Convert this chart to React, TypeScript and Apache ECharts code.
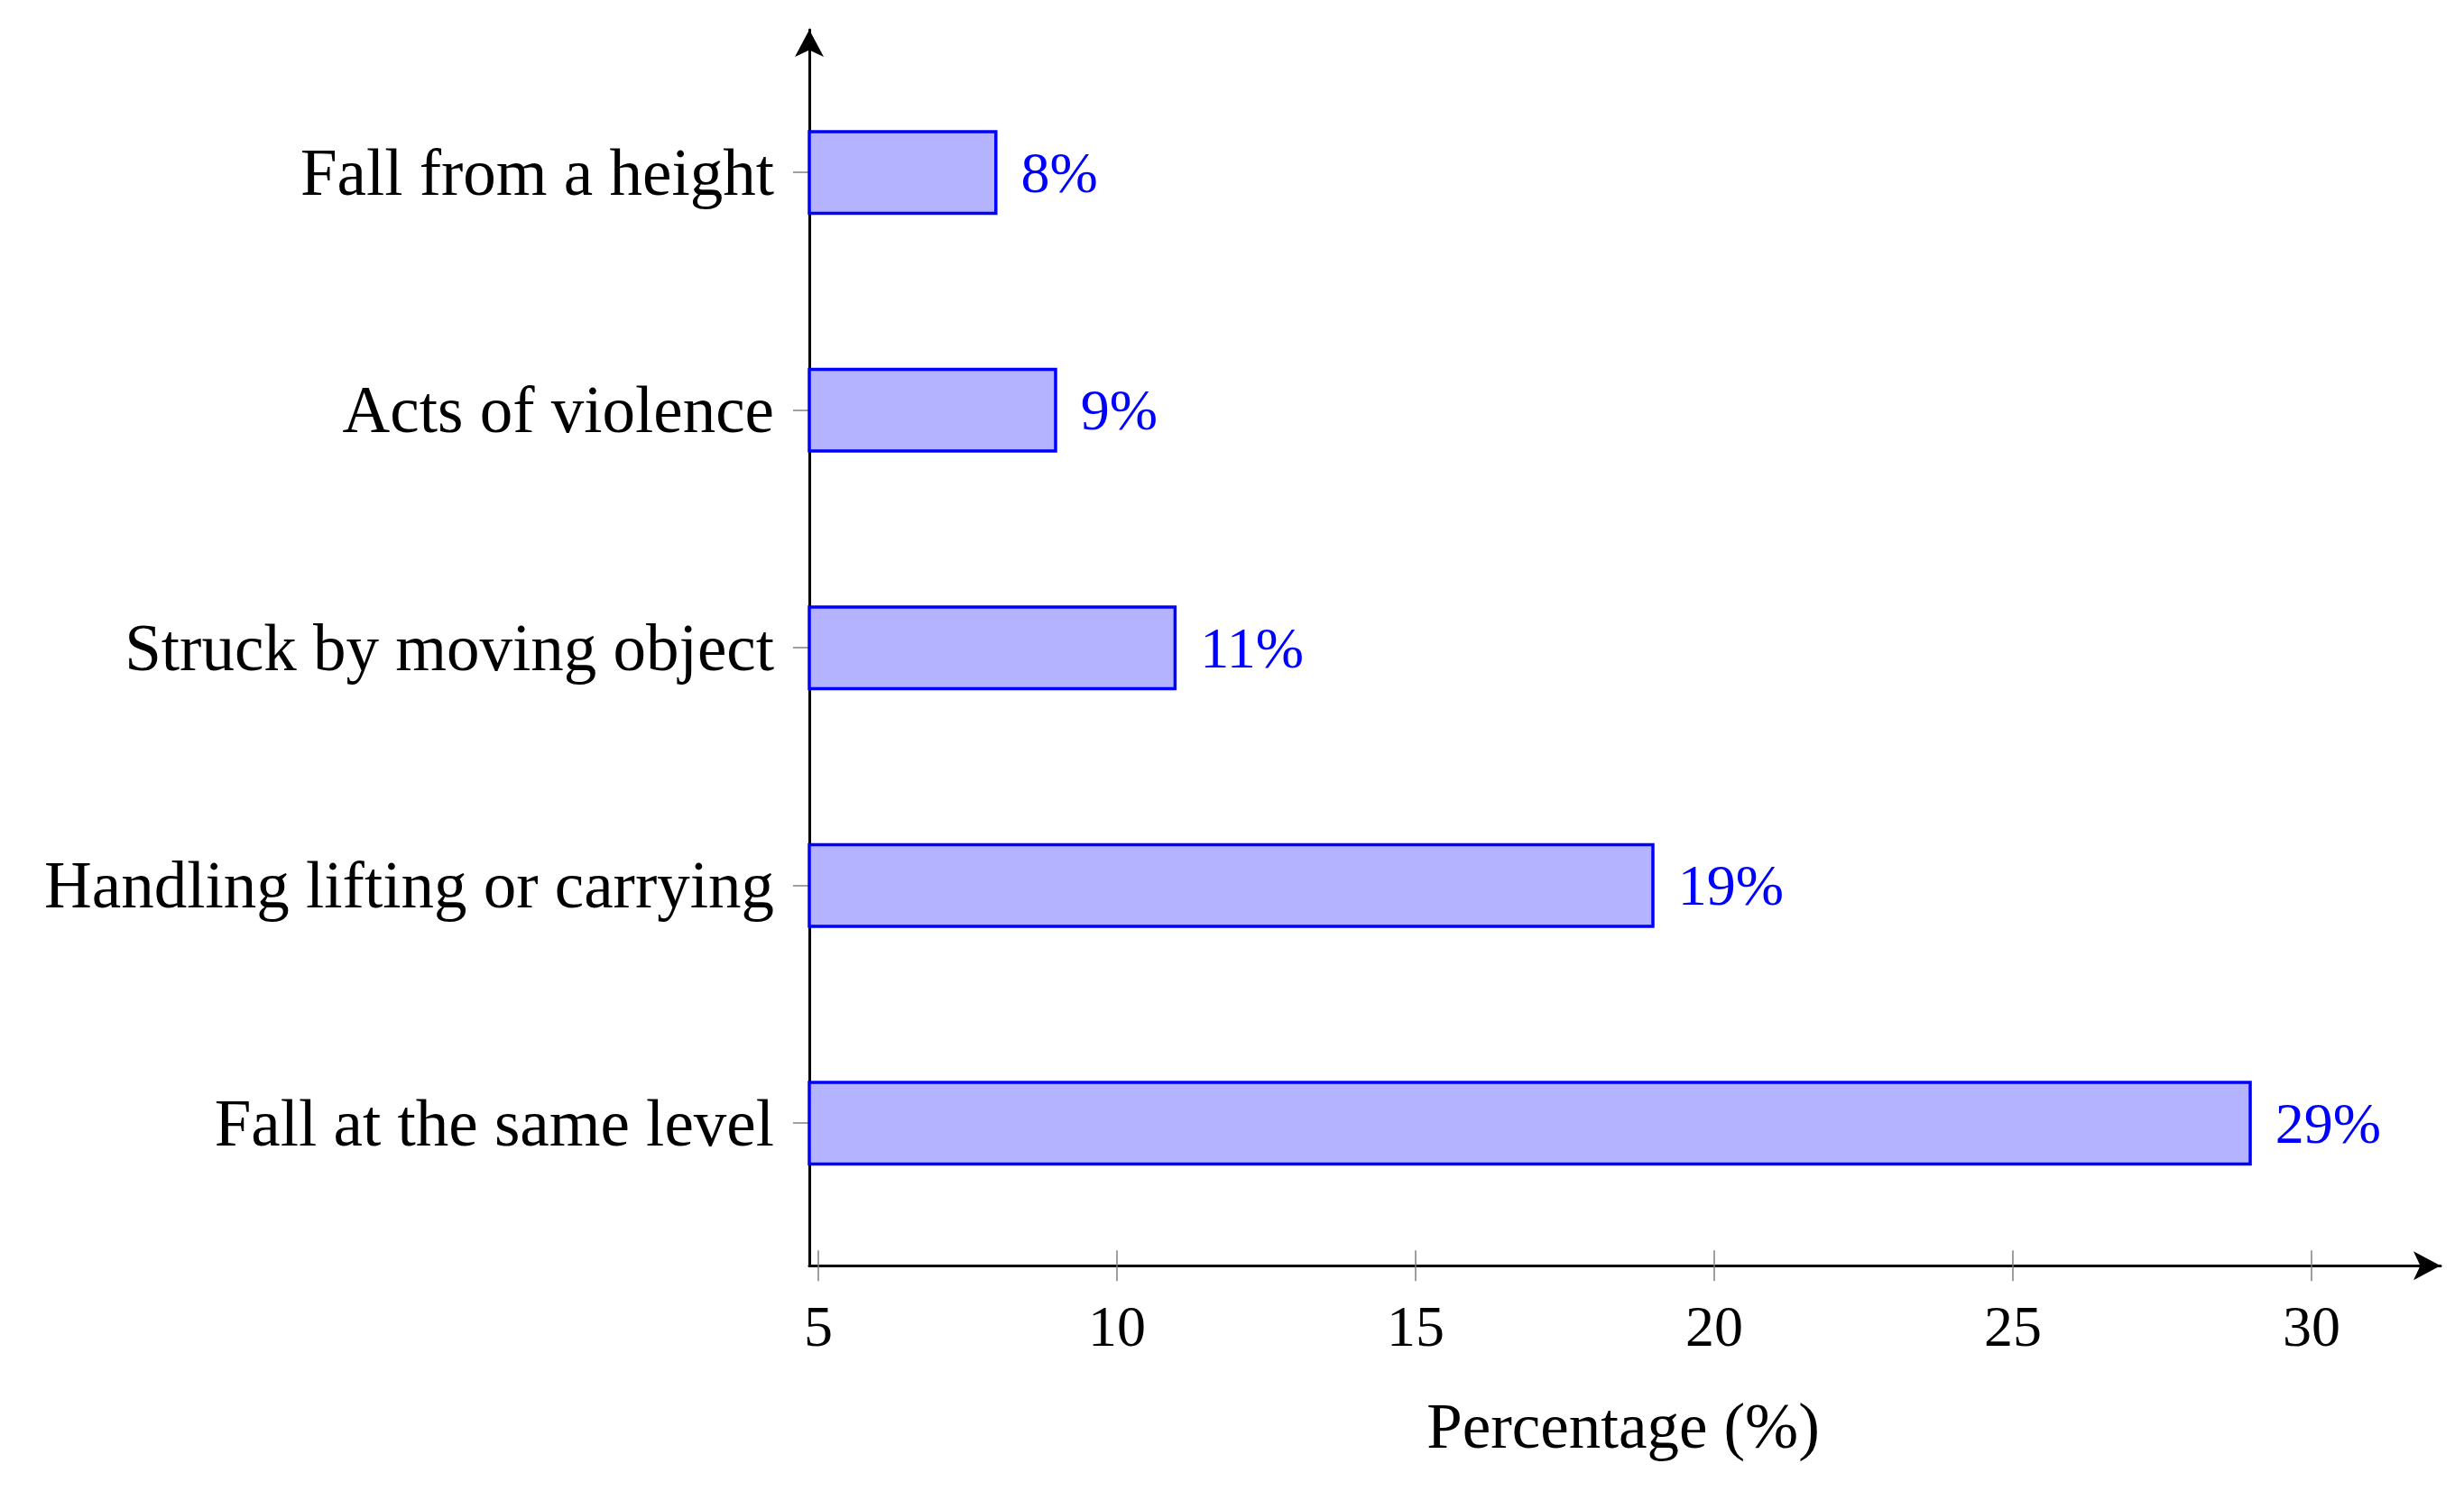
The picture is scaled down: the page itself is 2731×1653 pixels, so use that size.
import React, { useEffect, useRef } from "react";
import * as echarts from "echarts";

const categories = [
  "Fall at the same level",
  "Handling lifting or carrying",
  "Struck by moving object",
  "Acts of violence",
  "Fall from a height",
];
const values = [29, 19, 11, 9, 8];
const xTicks = [5, 10, 15, 20, 25, 30];
const xMin = 4.85;
const xMax = 32.16;

const FONT = "Liberation Serif";

export default function App() {
  const ref = useRef<HTMLDivElement>(null);
  useEffect(() => {
    if (!ref.current) return;
    const chart = echarts.init(ref.current, undefined, { renderer: "svg" });
    const W = 2731;
    const H = 1653;
    const left = 897;
    const right = W - 2705;
    const axisTop = 33;
    const axisBottom = 1403.3;
    const band = (1245.2 - 191.2) / 4;
    const barTop = 191.2 - band / 2;
    const barBottom = 1245.2 + band / 2;
    const tickStyle = { color: "#808080", width: 1.5 };
    const arrowLine = {
      show: true,
      lineStyle: { color: "#000", width: 3 },
      symbol: ["none", "arrow"],
      symbolSize: [24, 30],
      symbolOffset: [0, 0],
    };
    chart.setOption({
      animation: false,
      backgroundColor: "#ffffff",
      grid: [
        { left, right, top: barTop, bottom: H - barBottom, containLabel: false },
        { left, right, top: axisTop, bottom: H - axisBottom, containLabel: false },
      ],
      xAxis: [
        {
          type: "value",
          gridIndex: 0,
          min: xMin,
          max: xMax,
          show: false,
        },
        {
          type: "value",
          gridIndex: 1,
          min: xMin,
          max: xMax,
          position: "bottom",
          axisLine: arrowLine,
          axisTick: {
            show: true,
            customValues: xTicks,
            length: 17,
            lineStyle: tickStyle,
          },
          axisLabel: {
            show: true,
            customValues: xTicks,
            margin: 35,
            color: "#000",
            fontSize: 64,
            fontFamily: FONT,
          },
          splitLine: { show: false },
          name: "Percentage (%)",
          nameLocation: "middle",
          nameGap: 142,
          nameTextStyle: {
            color: "#000",
            fontSize: 71,
            fontFamily: FONT,
            padding: [0, 4, 0, 0],
          },
        },
        {
          type: "value",
          gridIndex: 1,
          min: xMin,
          max: xMax,
          position: "bottom",
          axisLine: { show: false },
          axisTick: {
            show: true,
            inside: true,
            customValues: xTicks,
            length: 17,
            lineStyle: tickStyle,
          },
          axisLabel: { show: false },
          splitLine: { show: false },
        },
      ],
      yAxis: [
        {
          type: "category",
          gridIndex: 0,
          data: categories,
          axisLine: { show: false },
          axisTick: {
            show: true,
            alignWithLabel: true,
            length: 18,
            lineStyle: tickStyle,
          },
          axisLabel: {
            show: true,
            margin: 39,
            color: "#000",
            fontSize: 73,
            fontFamily: FONT,
            padding: [0, 0, 14, 0],
          },
          splitLine: { show: false },
        },
        {
          type: "value",
          gridIndex: 1,
          min: 0,
          max: 1,
          axisLine: arrowLine,
          axisTick: { show: false },
          axisLabel: { show: false },
          splitLine: { show: false },
        },
      ],
      series: [
        {
          type: "bar",
          xAxisIndex: 0,
          yAxisIndex: 0,
          data: values,
          barWidth: 94,
          itemStyle: {
            color: "#b3b3ff",
            borderColor: "#0000ff",
            borderWidth: 3.5,
          },
          label: {
            show: true,
            position: "right",
            distance: 26,
            formatter: "{c}%",
            color: "#0000ff",
            fontSize: 64,
            fontFamily: FONT,
          },
        },
      ],
    });
    return () => chart.dispose();
  }, []);
  return (
    <div
      ref={ref}
      style={{
        position: "fixed",
        left: 0,
        top: 0,
        width: 2731,
        height: 1653,
        background: "#fff",
      }}
    />
  );
}
